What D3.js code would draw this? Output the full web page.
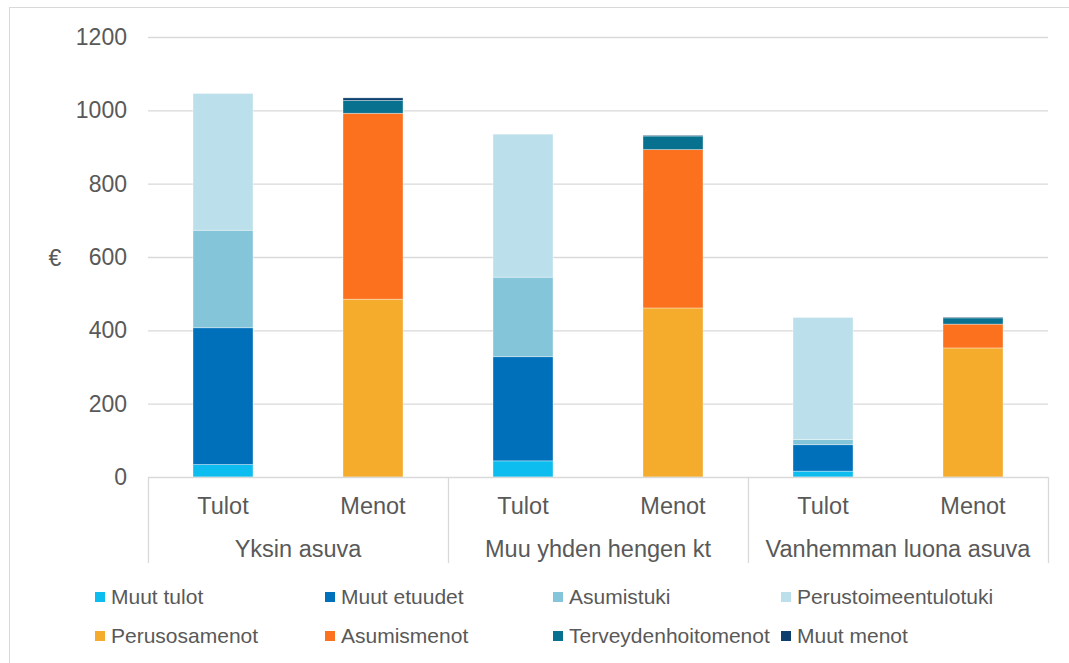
<!DOCTYPE html>
<html>
<head>
<meta charset="utf-8">
<script src="https://cdn.jsdelivr.net/npm/d3@7"></script>
<style>
  body { margin: 0; background: #fff; }
  text { font-family: "Liberation Sans", Arial, sans-serif; fill: #595959; }
</style>
</head>
<body>
<script>
// categories
const groups   = ["Yksin asuva", "Muu yhden hengen kt", "Vanhemman luona asuva"];
const kinds    = ["Tulot", "Menot"];
const yTicks   = [0, 200, 400, 600, 800, 1000, 1200];

// series (one value per bar: group x kind)
const seriesNames = ["Muut tulot", "Muut etuudet", "Asumistuki", "Perustoimeentulotuki",
                     "Perusosamenot", "Asumismenot", "Terveydenhoitomenot", "Muut menot"];
const muutTulot      = [34, 0, 44, 0, 16, 0];
const muutEtuudet    = [373, 0, 284, 0, 72, 0];
const asumistuki     = [266, 0, 217, 0, 14, 0];
const perustoimeentulotuki = [373, 0, 390, 0, 333, 0];
const perusosamenot  = [0, 485, 0, 461, 0, 352];
const asumismenot    = [0, 507, 0, 432, 0, 65];
const terveysmenot   = [0, 35, 0, 37, 0, 17];
const muutMenot      = [0, 7, 0, 2, 0, 2];
const colors = ["#0DBDEF", "#0070BA", "#84C5DA", "#BCE0EB",
                "#F5AB2B", "#FB711E", "#07718F", "#0D3F6E"];

const allSeries = [muutTulot, muutEtuudet, asumistuki, perustoimeentulotuki,
                   perusosamenot, asumismenot, terveysmenot, muutMenot];

const bars = [];
groups.forEach((g, gi) => kinds.forEach((k, ki) => {
    const row = { id: g + "|" + k, group: g, kind: k };
    seriesNames.forEach((s, si) => row[s] = allSeries[si][gi * 2 + ki]);
    bars.push(row);
}));

const width = 1069, height = 663;
const svg = d3.select("body").append("svg")
    .attr("width", width).attr("height", height);

// chart frame
svg.append("rect")
    .attr("x", 9.5).attr("y", 7.5)
    .attr("width", 1100).attr("height", 700)
    .attr("fill", "none").attr("stroke", "#D9D9D9");

const x = d3.scaleBand()
    .domain(bars.map(d => d.id))
    .range([148, 1048])
    .paddingInner(0.6)
    .paddingOuter(0.3);

const y = d3.scaleLinear().domain([0, 1200]).range([477, 37]);

// grid + y labels
svg.append("g").selectAll("line")
    .data(yTicks.filter(t => t > 0))
    .join("line")
    .attr("x1", 148).attr("x2", 1048)
    .attr("y1", d => y(d) + 0.5).attr("y2", d => y(d) + 0.5)
    .attr("stroke", "#D9D9D9").attr("stroke-width", 1.3);

svg.append("g").selectAll("text")
    .data(yTicks)
    .join("text")
    .attr("x", 127).attr("y", d => y(d))
    .attr("dy", "0.35em")
    .attr("text-anchor", "end")
    .style("font-size", "23px")
    .text(d => d);

svg.append("text")
    .attr("x", 55).attr("y", 258)
    .attr("dy", "0.35em")
    .attr("text-anchor", "middle")
    .style("font-size", "23px")
    .text("€");

// stacked bars
const stack = d3.stack().keys(seriesNames);
const layers = stack(bars);

svg.append("g").selectAll("g")
    .data(layers)
    .join("g")
    .attr("fill", (d, i) => colors[i])
    .selectAll("rect")
    .data(d => d.filter(p => p[1] - p[0] > 0))
    .join("rect")
    .attr("x", d => x(d.data.id))
    .attr("width", x.bandwidth())
    .attr("y", d => y(d[1]))
    .attr("height", d => y(d[0]) - y(d[1]))
    .attr("stroke", "#fff")
    .attr("stroke-opacity", 0.5)
    .attr("stroke-width", 0.7);

// category axis
const axis = svg.append("g");
axis.append("line")
    .attr("x1", 148).attr("x2", 1048)
    .attr("y1", 477.5).attr("y2", 477.5)
    .attr("stroke", "#D9D9D9").attr("stroke-width", 1.3);

const groupEdges = groups.map(g => x(g + "|" + kinds[0]) - x.step() * x.paddingOuter());
groupEdges.push(x.range()[1]);

axis.selectAll(".sep")
    .data(groupEdges)
    .join("line")
    .attr("class", "sep")
    .attr("x1", d => Math.round(d) + 0.5).attr("x2", d => Math.round(d) + 0.5)
    .attr("y1", 477).attr("y2", 563)
    .attr("stroke", "#D9D9D9").attr("stroke-width", 1.3);

axis.selectAll(".kind")
    .data(bars)
    .join("text")
    .attr("class", "kind")
    .attr("x", d => x(d.id) + x.bandwidth() / 2)
    .attr("y", 506)
    .attr("dy", "0.35em")
    .attr("text-anchor", "middle")
    .style("font-size", "23.5px")
    .text(d => d.kind);

axis.selectAll(".grp")
    .data(groups)
    .join("text")
    .attr("class", "grp")
    .attr("x", (g, i) => (groupEdges[i] + groupEdges[i + 1]) / 2)
    .attr("y", 549)
    .attr("dy", "0.35em")
    .attr("text-anchor", "middle")
    .style("font-size", "23.5px")
    .text(g => g);

// legend
const legendX = [95, 325, 553, 781];
const legendY = [597, 636];
const legend = svg.append("g").selectAll("g")
    .data(seriesNames)
    .join("g")
    .attr("transform", (d, i) => `translate(${legendX[i % 4]},${legendY[Math.floor(i / 4)]})`);

legend.append("rect")
    .attr("x", 0).attr("y", -5)
    .attr("width", 10).attr("height", 10)
    .attr("fill", (d, i) => colors[i]);

legend.append("text")
    .attr("x", 16).attr("y", 0)
    .attr("dy", "0.35em")
    .style("font-size", "21px")
    .text(d => d);
</script>
</body>
</html>
